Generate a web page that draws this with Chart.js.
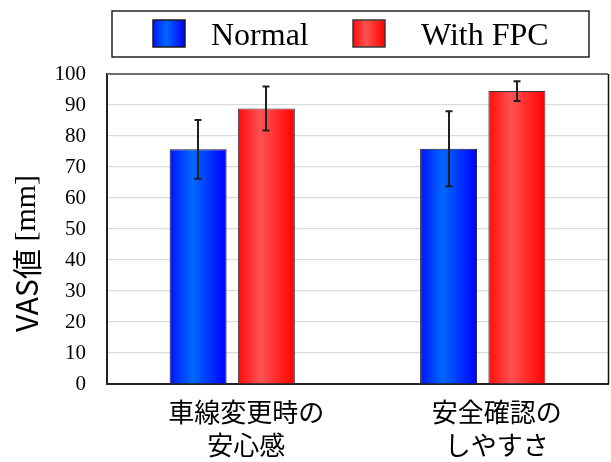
<!DOCTYPE html>
<html>
<head>
<meta charset="utf-8">
<script src="https://cdn.jsdelivr.net/npm/chart.js@4/dist/chart.umd.min.js"></script>
<style>
  html, body { margin: 0; padding: 0; background: #fff; }
  #wrap { width: 611px; height: 462px; }
</style>
</head>
<body>
<div id="wrap"><canvas id="c" width="611" height="462"></canvas></div>
<script>
// Categories (two-line labels) and series
const categories = [['車線変更時の', '安心感'], ['安全確認の', 'しやすさ']];
const seriesNames = ['Normal', 'With FPC'];
const normalMeans = [75.7, 75.9];
const normalSD = [9.5, 12.1];
const fpcMeans = [88.9, 94.5];
const fpcSD = [7.1, 3.2];
const yMin = 0, yMax = 100, yStep = 10;
const yTitleMain = 'VAS値';
const yTitleUnit = ' [mm]';

// Horizontal shading for each series' bars
const palette = [
  { stops: [[0, '#0014ff'], [0.4, '#0068ff'], [1, '#0000ff']], border: '#1a1a1a' },
  { stops: [[0, '#ff0c0c'], [0.4, '#ff5252'], [1, '#ff0000']], border: '#3a3a3a' }
];

function shade(ctx, l, r, stops) {
  const g = ctx.createLinearGradient(l, 0, r, 0);
  stops.forEach(s => g.addColorStop(s[0], s[1]));
  return g;
}

const barShading = {
  id: 'barShading',
  beforeDatasetsDraw(chart) {
    const ctx = chart.ctx;
    chart.data.datasets.forEach((ds, i) => {
      chart.getDatasetMeta(i).data.forEach(el => {
        const l = el.x - el.width / 2, r = el.x + el.width / 2;
        el.options = Object.assign({}, el.options, { backgroundColor: shade(ctx, l, r, palette[i].stops) });
      });
    });
  }
};

const errorBars = {
  id: 'errorBars',
  afterDatasetsDraw(chart) {
    const ctx = chart.ctx, y = chart.scales.y;
    ctx.save();
    ctx.strokeStyle = '#1e1e1e';
    ctx.lineWidth = 2;
    chart.data.datasets.forEach((ds, i) => {
      chart.getDatasetMeta(i).data.forEach((el, j) => {
        const m = ds.data[j], sd = ds.sd[j];
        const top = y.getPixelForValue(m + sd), bot = y.getPixelForValue(m - sd);
        const x = Math.round(el.x), cap = 3.5;
        ctx.beginPath();
        ctx.moveTo(x, top); ctx.lineTo(x, bot);
        ctx.moveTo(x - cap, top); ctx.lineTo(x + cap, top);
        ctx.moveTo(x - cap, bot); ctx.lineTo(x + cap, bot);
        ctx.stroke();
      });
    });
    ctx.restore();
  }
};

const frameAndText = {
  id: 'frameAndText',
  afterDraw(chart) {
    const ctx = chart.ctx, a = chart.chartArea;
    ctx.save();
    // top and right edges of the plot frame
    ctx.strokeStyle = '#6e6e6e';
    ctx.lineWidth = 2;
    ctx.beginPath(); ctx.moveTo(a.left, a.top); ctx.lineTo(a.right, a.top); ctx.stroke();
    ctx.strokeStyle = '#111';
    ctx.lineWidth = 1.5;
    ctx.beginPath(); ctx.moveTo(a.right + 0.5, a.top); ctx.lineTo(a.right + 0.5, a.bottom); ctx.stroke();

    // y-axis title, reading bottom to top
    ctx.save();
    ctx.translate(27, 332);
    ctx.rotate(-Math.PI / 2);
    ctx.fillStyle = '#000';
    ctx.textBaseline = 'middle';
    ctx.textAlign = 'left';
    ctx.font = "30px 'Noto Sans CJK JP', 'Noto Sans', sans-serif";
    ctx.fillText(yTitleMain, 0, 0);
    const w = ctx.measureText(yTitleMain).width;
    ctx.font = "30px 'Liberation Serif', serif";
    ctx.fillText(yTitleUnit, w, 0);
    ctx.restore();

    // legend box
    ctx.strokeStyle = '#222';
    ctx.lineWidth = 1.5;
    ctx.strokeRect(112, 11, 477, 46);
    const items = [
      { box: [153, 20, 32, 27], tx: 211 },
      { box: [353, 20, 32, 27], tx: 421 }
    ];
    ctx.font = "32px 'Liberation Serif', serif";
    ctx.textBaseline = 'alphabetic';
    chart.data.datasets.forEach((ds, i) => {
      const [bx, by, bw, bh] = items[i].box;
      ctx.fillStyle = shade(ctx, bx, bx + bw, palette[i].stops);
      ctx.fillRect(bx, by, bw, bh);
      ctx.strokeStyle = palette[i].border;
      ctx.lineWidth = 1.5;
      ctx.strokeRect(bx, by, bw, bh);
      ctx.fillStyle = '#000';
      ctx.fillText(ds.label, items[i].tx, 45);
    });
    ctx.restore();
  }
};

new Chart(document.getElementById('c'), {
  type: 'bar',
  data: {
    labels: categories,
    datasets: [
      { label: seriesNames[0], data: normalMeans, sd: normalSD, backgroundColor: '#0040ff', borderColor: palette[0].border, borderWidth: 1 },
      { label: seriesNames[1], data: fpcMeans, sd: fpcSD, backgroundColor: '#ff3030', borderColor: palette[1].border, borderWidth: 1 }
    ]
  },
  options: {
    responsive: false,
    animation: false,
    events: [],
    layout: { padding: { top: 74, right: 3, left: 0, bottom: 0 } },
    datasets: { bar: { categoryPercentage: 0.545, barPercentage: 0.835 } },
    plugins: { legend: { display: false }, tooltip: { enabled: false } },
    scales: {
      x: {
        grid: { display: false, drawTicks: false },
        border: { display: true, color: '#222', width: 2 },
        ticks: {
          color: '#000',
          padding: 12,
          labelOffset: 14,
          maxRotation: 0,
          autoSkip: false,
          font: { family: "'Noto Sans CJK JP'", size: 26, lineHeight: 1.27 }
        },
        afterFit(s) { s.height = 78; }
      },
      y: {
        min: yMin, max: yMax,
        grid: { color: '#dcdcdc', lineWidth: 1.2, drawTicks: false },
        border: { display: true, color: '#222', width: 2 },
        ticks: {
          stepSize: yStep,
          color: '#000',
          padding: 21,
          font: { family: "'Liberation Serif', serif", size: 21 }
        },
        afterFit(s) { s.width = 107; }
      }
    }
  },
  plugins: [barShading, errorBars, frameAndText]
});
</script>
</body>
</html>
